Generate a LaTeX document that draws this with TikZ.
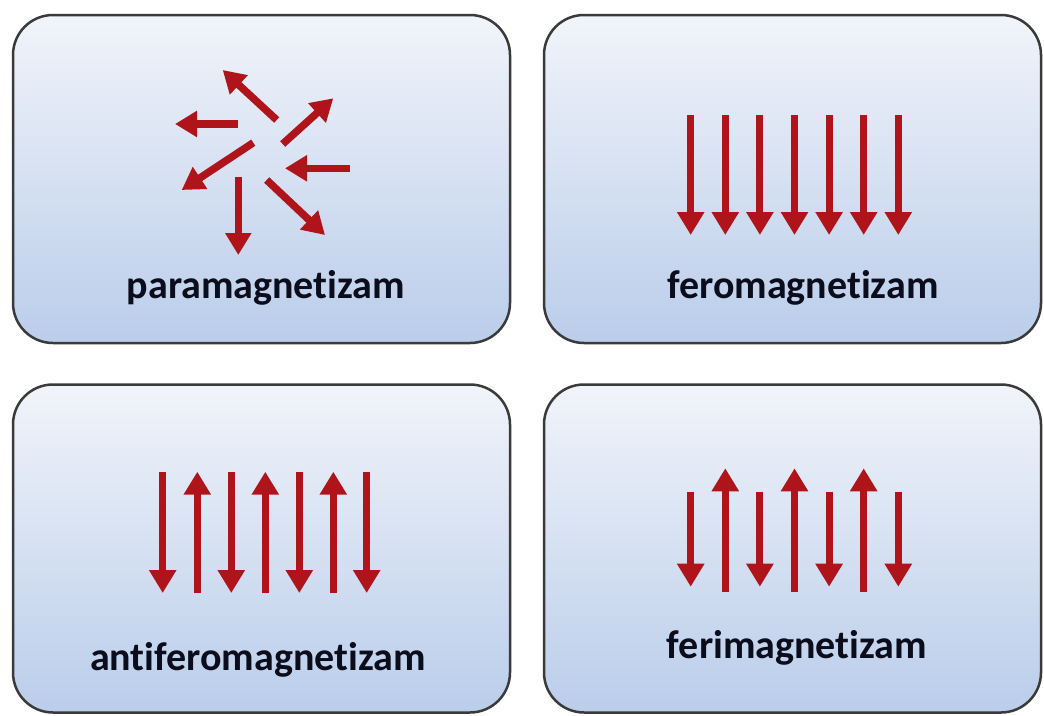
\documentclass[tikz,border=0pt]{standalone}
\usepackage{fontspec}
\setmainfont{Carlito}[Ligatures={NoCommon}]
\usetikzlibrary{arrows.meta}
\definecolor{paneltop}{HTML}{F1F4FA}
\definecolor{panelbot}{HTML}{BACDEA}
\definecolor{panelline}{HTML}{3A3A3A}
\definecolor{spinred}{HTML}{B0141B}
\definecolor{labelink}{HTML}{0B0C1C}
\tikzset{
  panel/.style={rectangle, rounded corners=40pt, draw=panelline, line width=2.5pt,
    top color=paneltop, bottom color=panelbot, minimum width=497pt, minimum height=328pt,
    inner sep=0pt},
  spin/.style={draw=spinred, line width=7pt,
    -{Triangle[width=26pt,length=23pt]}, spinred},
  pspin/.style={draw=spinred, line width=7.5pt,
    -{Triangle[width=25pt,length=22pt]}, spinred},
  lbl/.style={anchor=base, text=labelink, font=\fontsize{40}{48}\selectfont\bfseries, inner sep=0pt}
}
\begin{document}
\begin{tikzpicture}[x=1pt,y=-1pt]
\useasboundingbox (0,0) rectangle (1044,715);
\node[panel] (p1) at (261.5,179) {};
\node[panel] (p2) at (792.5,179) {};
\node[panel] (p3) at (261.5,548.5) {};
\node[panel] (p4) at (792.5,548.5) {};
% paramagnetism
\draw[pspin] (276.7,120) -- (222.7,70);
\draw[pspin] (238.3,124) -- (175,124);
\draw[pspin] (282.7,144) -- (333.3,98.3);
\draw[pspin] (253.3,142.7) -- (181.7,190);
\draw[pspin] (350,168.3) -- (285,168.3);
\draw[pspin] (238.3,176.7) -- (238.3,255);
\draw[pspin] (266.7,180) -- (325,235);
\node[lbl] (l1) at (266,298) {paramagnetizam};
% ferromagnetism
\foreach \x in {690.7,725.3,759.9,794.5,829.1,863.7,898.3}
  \draw[spin] (\x,115) -- (\x,235);
\node[lbl] (l2) at (803,298) {feromagnetizam};
% antiferromagnetism
\foreach \x in {162.7,231.3,299.3,366.7}
  \draw[spin] (\x,471.7) -- (\x,593);
\foreach \x in {197.3,265.3,333.3}
  \draw[spin] (\x,593) -- (\x,471.7);
\node[lbl] (l3) at (258,670) {antiferomagnetizam};
% ferrimagnetism
\foreach \x in {690.7,759.9,829.1,898.3}
  \draw[spin] (\x,491.7) -- (\x,586.7);
\foreach \x in {725.3,794.5,863.7}
  \draw[spin] (\x,591.7) -- (\x,468.3);
\node[lbl] (l4) at (797,658) {ferimagnetizam};
\end{tikzpicture}
\end{document}
